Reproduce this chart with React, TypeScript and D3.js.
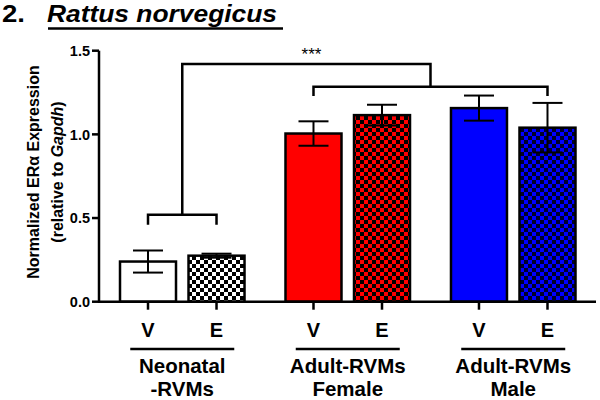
import React from "react";
import * as d3 from "d3";

const groupLabels: string[][] = [
  ["Neonatal", "-RVMs"],
  ["Adult-RVMs", "Female"],
  ["Adult-RVMs", "Male"],
];
const treatments = ["V", "E"];
const means = [0.24, 0.275, 1.005, 1.115, 1.157, 1.04];
const errors = [0.066, 0.012, 0.073, 0.062, 0.075, 0.148];
const baseColors = ["#ffffff", "#ffffff", "#ff0000", "#ff0000", "#0000ff", "#0000ff"];
const checkColors = ["#000000", "#000000", "#000000", "#000000", "#000028", "#000028"];
const yTicks = [0, 0.5, 1.0, 1.5];

// significance annotation levels (data units)
const neoBracket = { y: 0.52, leg: 0.46 };
const adultBracket = { y: 1.285, leg: 1.23 };
const topBracket = 1.42;
const sigLabel = "***";

const FONT = "'Liberation Sans', Arial, Helvetica, sans-serif";

export default function App() {
  const width = 600;
  const height = 400;
  const x0 = 99;
  const yScale = d3.scaleLinear().domain([0, 1.5]).range([301.7, 50.7]);
  const groupIds = groupLabels.map((_, i) => String(i));
  const outer = d3
    .scaleBand<string>()
    .domain(groupIds)
    .range([113.75, 113.75 + 468])
    .paddingInner(0.172)
    .paddingOuter(0);
  const inner = d3.scaleBand<string>().domain(treatments).range([0, outer.bandwidth()]).padding(0);
  const barW = 56;

  const bars = means.map((m, i) => {
    const g = Math.floor(i / 2);
    const t = treatments[i % 2];
    const cx = (outer(String(g)) as number) + (inner(t) as number) + inner.bandwidth() / 2;
    return { i, g, t, m, e: errors[i], cx };
  });

  const cxOf = (i: number) => bars[i].cx;
  const y0 = yScale(0);
  const sw = 2.5;

  const neoMid = (cxOf(0) + cxOf(1)) / 2;
  const adultL = cxOf(2);
  const adultR = cxOf(5);
  const adultMid = (adultL + adultR) / 2;
  const axisEnd = 596;

  return (
    <svg
      width={width}
      height={height}
      style={{ position: "absolute", left: 0, top: 0, background: "#fff" }}
      fontFamily={FONT}
    >
      <defs>
        {bars.map((b) =>
          b.t === "E" ? (
            <pattern
              key={b.i}
              id={`chk${b.i}`}
              patternUnits="userSpaceOnUse"
              width={8}
              height={8}
            >
              <rect width={8} height={8} fill={baseColors[b.i]} />
              <rect width={4} height={4} fill={checkColors[b.i]} />
              <rect x={4} y={4} width={4} height={4} fill={checkColors[b.i]} />
            </pattern>
          ) : null
        )}
      </defs>
      <rect width={width} height={height} fill="#fff" />

      {/* Title */}
      <text x={2} y={22} fontSize={24} fontWeight="bold" textLength={23} lengthAdjust="spacingAndGlyphs">
        2.
      </text>
      <text
        x={47}
        y={22}
        fontSize={24}
        fontWeight="bold"
        fontStyle="italic"
        textLength={230}
        lengthAdjust="spacingAndGlyphs"
      >
        Rattus norvegicus
      </text>
      <line x1={48} x2={283} y1={28.5} y2={28.5} stroke="#000" strokeWidth={2.5} />

      {/* Bars */}
      {bars.map((b) => (
        <rect
          key={b.i}
          x={b.cx - barW / 2}
          y={yScale(b.m)}
          width={barW}
          height={y0 - yScale(b.m)}
          fill={b.t === "E" ? `url(#chk${b.i})` : baseColors[b.i]}
          stroke="#000"
          strokeWidth={sw}
        />
      ))}

      {/* Error bars */}
      {bars.map((b) => (
        <g key={"e" + b.i} stroke="#000" strokeWidth={2}>
          <line x1={b.cx} x2={b.cx} y1={yScale(b.m + b.e)} y2={yScale(b.m - b.e)} />
          <line x1={b.cx - 15} x2={b.cx + 15} y1={yScale(b.m + b.e)} y2={yScale(b.m + b.e)} />
          <line x1={b.cx - 15} x2={b.cx + 15} y1={yScale(b.m - b.e)} y2={yScale(b.m - b.e)} />
        </g>
      ))}

      {/* Axes */}
      <line x1={x0} x2={x0} y1={yScale(1.5)} y2={y0 + 1} stroke="#000" strokeWidth={sw} />
      <line x1={x0 - 1} x2={axisEnd} y1={y0} y2={y0} stroke="#000" strokeWidth={sw} />
      {yTicks.map((t) => (
        <g key={t}>
          <line x1={x0 - 7} x2={x0} y1={yScale(t)} y2={yScale(t)} stroke="#000" strokeWidth={sw} />
          <text
            x={x0 - 9}
            y={yScale(t)}
            dy="0.36em"
            textAnchor="end"
            fontSize={14.5}
            fontWeight="bold"
          >
            {d3.format(".1f")(t)}
          </text>
        </g>
      ))}
      {bars.map((b) => (
        <g key={"x" + b.i}>
          <line x1={b.cx} x2={b.cx} y1={y0} y2={y0 + 8} stroke="#000" strokeWidth={sw} />
          <text x={b.cx} y={337} textAnchor="middle" fontSize={20} fontWeight="bold">
            {b.t}
          </text>
        </g>
      ))}

      {/* Group labels */}
      {groupLabels.map((lines, g) => {
        const cx = (cxOf(g * 2) + cxOf(g * 2 + 1)) / 2;
        return (
          <g key={"g" + g}>
            <line x1={cx - 52} x2={cx + 52} y1={349} y2={349} stroke="#000" strokeWidth={2.5} />
            <text x={cx} y={373} textAnchor="middle" fontSize={20.5} fontWeight="bold">
              {lines[0]}
            </text>
            <text x={cx} y={396} textAnchor="middle" fontSize={20.5} fontWeight="bold">
              {lines[1]}
            </text>
          </g>
        );
      })}

      {/* Y title */}
      <g transform="translate(39,172) rotate(-90)">
        <text textAnchor="middle" fontSize={16} fontWeight="bold" y={0}>
          Normalized ERα Expression
        </text>
        <text textAnchor="middle" fontSize={16} fontWeight="bold" y={24}>
          (relative to <tspan fontStyle="italic">Gapdh</tspan>)
        </text>
      </g>

      {/* Significance brackets */}
      <g stroke="#000" strokeWidth={2.5} fill="none">
        <path
          d={`M${cxOf(0)},${yScale(neoBracket.leg)}V${yScale(neoBracket.y)}H${cxOf(1)}V${yScale(
            neoBracket.leg
          )}`}
        />
        <path
          d={`M${adultL},${yScale(adultBracket.leg)}V${yScale(adultBracket.y)}H${adultR}V${yScale(
            adultBracket.leg
          )}`}
        />
        <path
          d={`M${neoMid},${yScale(neoBracket.y)}V${yScale(topBracket)}H${adultMid}V${yScale(
            adultBracket.y
          )}`}
        />
      </g>
      <text x={adultL - 2} y={60} textAnchor="middle" fontSize={17}>
        {sigLabel}
      </text>
    </svg>
  );
}
